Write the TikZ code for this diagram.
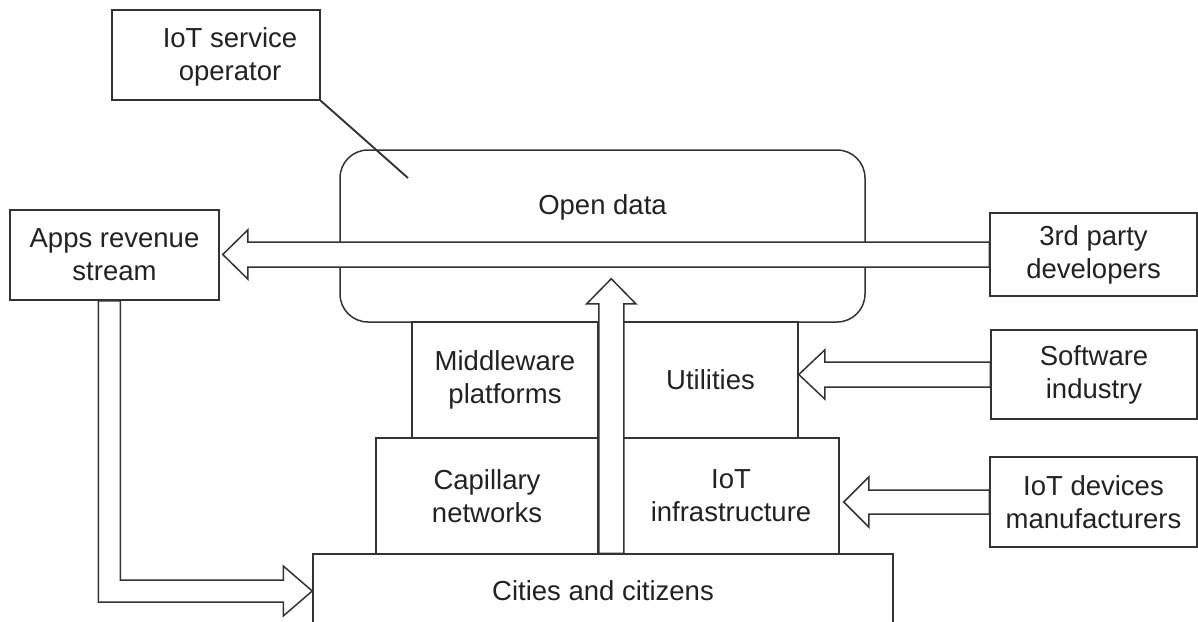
\documentclass[tikz,border=0pt]{standalone}
\usepackage{fontspec}
\setmainfont{Liberation Sans}
\usetikzlibrary{calc}
\definecolor{linec}{HTML}{333333}
\definecolor{textc}{HTML}{222222}
\tikzset{
  box/.style={draw=linec, line width=1.5pt, fill=white, inner sep=0pt, align=center,
    font=\fontsize{27.5}{33}\selectfont, text=textc},
  boxtext/.style={inner sep=0pt, align=center, font=\fontsize{27.5}{33}\selectfont, text=textc},
  fatarrow/.style={draw=linec, line width=1.5pt, fill=white, line join=miter},
  plainline/.style={draw=linec, line width=1.9pt},
}
\begin{document}
\begin{tikzpicture}[x=1pt,y=-1pt]
\useasboundingbox (0,0) rectangle (1198,621);
\clip (0,0) rectangle (1198,621);
% boxes
\node[box, rounded corners=28pt, minimum width=525pt, minimum height=172pt,
  label={[boxtext,yshift=29pt]center:Open data}] (open) at (602.5,236) {};
\node[box, minimum width=208pt, minimum height=90pt,
  label={[boxtext,xshift=14pt,yshift=-2pt]center:{IoT service\\operator}}] (op) at (216,55) {};
\node[box, minimum width=209pt, minimum height=90pt] (apps) at (114.5,255) {Apps revenue\\stream};
\node[box, minimum width=207pt, minimum height=83pt] (dev) at (1093.5,254.5) {3rd party\\developers};
\node[box, minimum width=186pt, minimum height=116pt] (mw) at (505,380) {Middleware\\platforms};
\node[box, minimum width=175pt, minimum height=116pt] (util) at (710.5,380) {Utilities};
\node[box, minimum width=222pt, minimum height=116pt] (cap) at (487,496) {Capillary\\networks};
\node[box, minimum width=216pt, minimum height=116pt] (infra) at (731,496) {IoT\\infrastructure};
\node[box, minimum width=580pt, minimum height=74pt] (cities) at (603,591) {Cities and citizens};
\node[box, minimum width=206pt, minimum height=89pt] (sw) at (1094,374.5) {Software\\industry};
\node[box, minimum width=207pt, minimum height=90pt] (dm) at (1093.5,502) {IoT devices\\manufacturers};
\coordinate (opend) at (408,178);
% hollow arrows
\draw[fatarrow] let \p1=(dev.west), \p2=(apps.east) in
  (\x1,\y1+12.5pt) -- (\x2+28pt,\y1+12.5pt) -- (\x2+28pt,\y1+24.5pt) -- (\x2+3pt,\y1)
  -- (\x2+28pt,\y1-24.5pt) -- (\x2+28pt,\y1-12.5pt) -- (\x1,\y1-12.5pt) -- cycle;
\draw[fatarrow] let \p1=(sw.west), \p2=(util.east) in
  (\x1,\y1+12.5pt) -- (\x2+26pt,\y1+12.5pt) -- (\x2+26pt,\y1+24.5pt) -- (\x2,\y1)
  -- (\x2+26pt,\y1-24.5pt) -- (\x2+26pt,\y1-12.5pt) -- (\x1,\y1-12.5pt) -- cycle;
\draw[fatarrow] let \p1=(dm.west), \p2=(infra.east) in
  (\x1,\y1+12pt) -- (\x2+29pt,\y1+12pt) -- (\x2+29pt,\y1+25pt) -- (\x2+4pt,\y1)
  -- (\x2+29pt,\y1-25pt) -- (\x2+29pt,\y1-12pt) -- (\x1,\y1-12pt) -- cycle;
\draw[fatarrow] let \p1=(mw.north east), \p2=(cities.north), \p3=(open.south) in
  (\x1,\y2) -- (\x1,\y3+19pt) -- (\x1-12pt,\y3+19pt) -- (\x1+12.5pt,\y3+44pt)
  -- (\x1+37pt,\y3+19pt) -- (\x1+25pt,\y3+19pt) -- (\x1+25pt,\y2) -- cycle;
\draw[fatarrow] let \p1=(apps.south west), \p2=(cities.west) in
  (\x1+89pt,\y1) -- (\x1+89pt,\y2-11pt) -- (\x2-29pt,\y2-11pt) -- (\x2-29pt,\y2-25pt)
  -- (\x2,\y2) -- (\x2-29pt,\y2+25pt) -- (\x2-29pt,\y2+11pt) -- (\x1+111pt,\y2+11pt)
  -- (\x1+111pt,\y1) -- cycle;
% operator connector
\draw[plainline] (op.south east) -- (opend);
\end{tikzpicture}
\end{document}
